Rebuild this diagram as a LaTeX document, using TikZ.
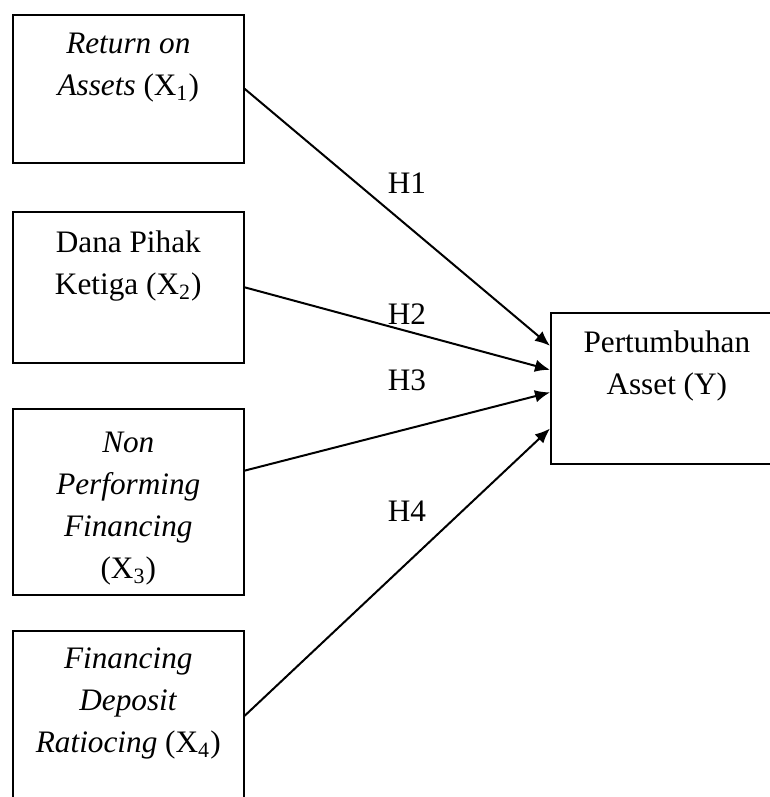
\documentclass[tikz,border=0pt]{standalone}
\usepackage{fontspec}
\setmainfont{Liberation Serif}
\usetikzlibrary{arrows.meta}

\tikzset{
	varbox/.style={draw, line width=0.65pt, inner sep=0pt, align=center, minimum width=92.4pt, font=\fontsize{12.5}{16.8}\selectfont},
	hyp/.style={-{Latex[length=6pt,width=5pt]}, line width=0.8pt},
	hlabel/.style={inner sep=0pt, font=\fontsize{12.5}{14}\selectfont}
}

\begin{document}
\begin{tikzpicture}[x=0.4pt,y=-0.4pt]
	\useasboundingbox (0,0) rectangle (769,797);
	
	\node[varbox, anchor=north west, text height=32.4pt, text depth=26.8pt] (x1) at (12,14) {\textit{Return on}\\\textit{Assets} (X\textsubscript{1})};
	\node[varbox, anchor=north west, text height=33.2pt, text depth=27.2pt] (x2) at (12,211) {Dana Pihak\\Ketiga (X\textsubscript{2})};
	\node[varbox, anchor=north west, text height=68pt, text depth=6.4pt] (x3) at (12,408) {\textit{Non}\\\textit{Performing}\\\textit{Financing}\\(X\textsubscript{3})};
	\node[varbox, anchor=north west, text height=48.8pt, text depth=19.2pt] (x4) at (12,630) {\textit{Financing}\\\textit{Deposit}\\\textit{Ratiocing} (X\textsubscript{4})};
	\node[varbox, anchor=north west, text height=32.8pt, text depth=27.6pt, minimum width=92.8pt] (y) at (550,312) {Pertumbuhan\\Asset (Y)};
	
	\draw[hyp] (x1.east) -- (y.160);
	\draw[hyp] (x2.east) -- (y.171);
	\draw[hyp] (x3.15) -- (y.182);
	\draw[hyp] (x4.east) -- (y.199);
	
	\node[hlabel] (h1) at (407,183) {H1};
	\node[hlabel] (h2) at (407,314) {H2};
	\node[hlabel] (h3) at (407,380) {H3};
	\node[hlabel] (h4) at (407,511) {H4};
\end{tikzpicture}
\end{document}
